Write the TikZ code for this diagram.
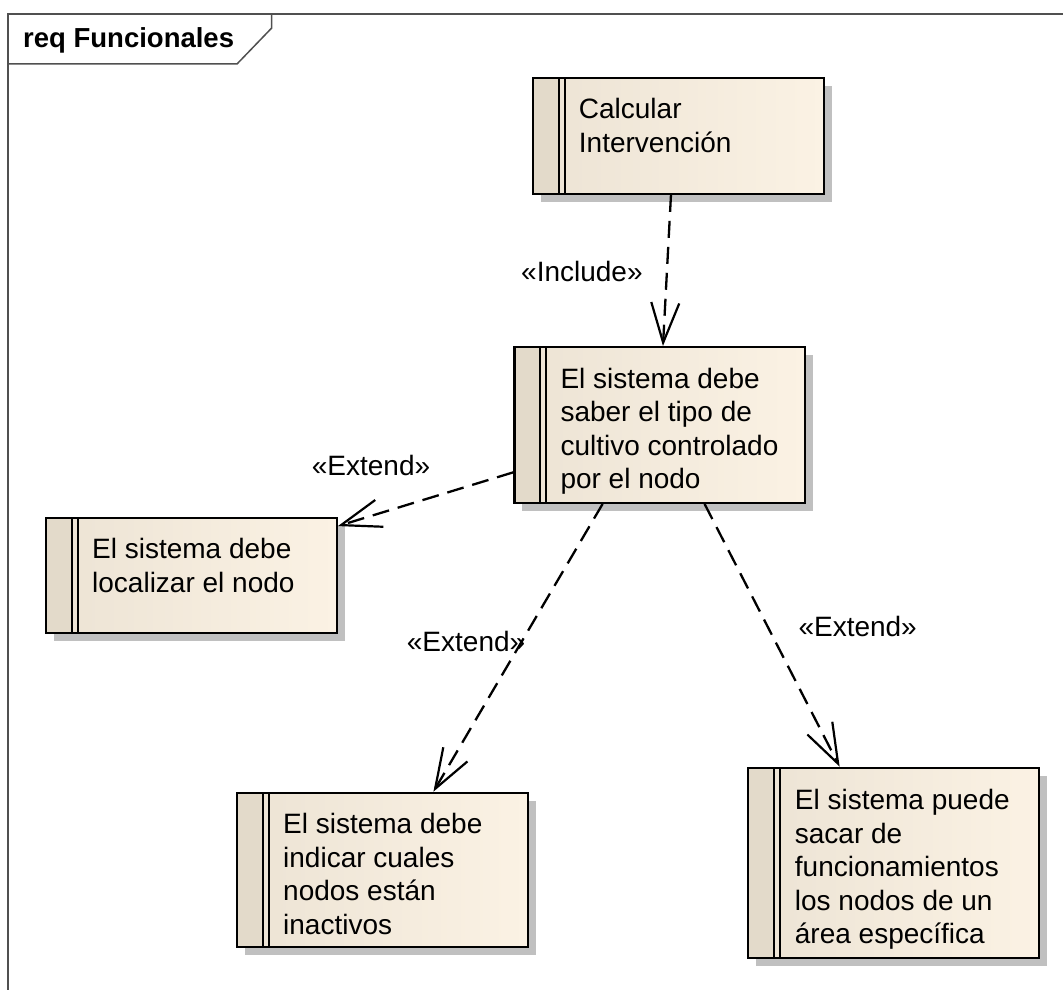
\documentclass[tikz,border=0pt]{standalone}
\usepackage{fontspec}
\setmainfont{Liberation Sans}
\usetikzlibrary{arrows.meta,calc,shadows}
\definecolor{stripcol}{RGB}{227,218,202}
\definecolor{leftcol}{RGB}{236,227,212}
\definecolor{rightcol}{RGB}{251,242,228}
\definecolor{shadowcol}{RGB}{192,192,192}
\definecolor{framecol}{RGB}{80,80,80}
\tikzset{
  reqbox/.style={draw=black, line width=2.2pt, anchor=north west, inner sep=0pt,
    left color=leftcol, right color=rightcol,
    general shadow={fill=shadowcol, shadow xshift=8pt, shadow yshift=-8pt},
    path picture={
      \fill[stripcol] (path picture bounding box.north west) rectangle ([xshift=26pt]path picture bounding box.south west);
      \draw[line width=2pt] ([xshift=26pt]path picture bounding box.north west) -- ([xshift=26pt]path picture bounding box.south west);
      \draw[line width=2pt] ([xshift=32pt]path picture bounding box.north west) -- ([xshift=32pt]path picture bounding box.south west);
    }},
  reqtext/.style={anchor=base west, inner sep=0pt, font=\fontsize{28}{33.5}\selectfont},
  deplabel/.style={anchor=base west, inner sep=0pt, font=\fontsize{28}{33.5}\selectfont},
  dependency/.style={line width=2.3pt, dash pattern=on 17pt off 9pt,
    -{Straight Barb[length=40pt,width=28pt,line width=2.2pt]}},
  frameline/.style={draw=framecol, line width=1.5pt}
}
\newcommand{\reqlines}[1]{\parbox[t]{270pt}{\fontsize{28}{33.5}\selectfont\raggedright #1}}
\begin{document}
\begin{tikzpicture}[x=1pt,y=-1pt]
\useasboundingbox (0,0) rectangle (1063,990);
% frame
\draw[frameline] (1063,14) -- (8,14) -- (8,990);
\draw[frameline] (8,64) -- (237,64) -- (271.7,28) -- (271.7,14);
\node[anchor=base west, inner sep=0pt, font=\fontsize{27.5}{32}\selectfont\bfseries] (title) at (23,48) {req Funcionales};

% boxes
\node[reqbox, minimum width=291pt, minimum height=116pt] (calc) at (531.7,76.7) {};
\node[reqbox, minimum width=290.7pt, minimum height=155.7pt] (mid) at (513.3,346) {};
\node[reqbox, minimum width=290.7pt, minimum height=115pt] (loc) at (45,516.7) {};
\node[reqbox, minimum width=290.7pt, minimum height=154.3pt] (ind) at (236,791.7) {};
\node[reqbox, minimum width=291pt, minimum height=190pt] (sac) at (746.7,766.7) {};

% texts
\node[reqtext] (calcT) at ($(calc.north west)+(47,42)$) {\reqlines{Calcular\\Intervención}};
\node[reqtext] (midT) at ($(mid.north west)+(47,42)$) {\reqlines{El sistema debe\\saber el tipo de\\cultivo controlado\\por el nodo}};
\node[reqtext] (locT) at ($(loc.north west)+(47,42)$) {\reqlines{El sistema debe\\localizar el nodo}};
\node[reqtext] (indT) at ($(ind.north west)+(47,42)$) {\reqlines{El sistema debe\\indicar cuales\\nodos están\\inactivos}};
\node[reqtext] (sacT) at ($(sac.north west)+(48,43)$) {\reqlines{El sistema puede\\sacar de\\funcionamientos\\los nodos de un\\área específica}};

% connector end points
\coordinate (c1) at ($(calc.south west)!0.475!(calc.south east)$);
\coordinate (m1) at ($(mid.north west)!0.511!(mid.north east)$);
\coordinate (m2) at ($(mid.north west)!0.8!(mid.south west)$);
\coordinate (l1) at ($(loc.north east)!0.08!(loc.south east)$);
\coordinate (m3) at ($(mid.south west)!0.305!(mid.south east)$);
\coordinate (i1) at ($(ind.north west)!0.674!(ind.north east)$);
\coordinate (m4) at ($(mid.south west)!0.653!(mid.south east)$);
\coordinate (s1) at ($(sac.north west)!0.317!(sac.north east)$);

\draw[dependency] (c1) -- (m1);
\draw[dependency] (m2) -- (l1);
\draw[dependency] (m3) -- (i1);
\draw[dependency] (m4) -- (s1);

% labels
\node[deplabel] (lInc) at (521,281) {«Include»};
\node[deplabel] (lExt1) at (311.7,475) {«Extend»};
\node[deplabel] (lExt2) at (406.7,651) {«Extend»};
\node[deplabel] (lExt3) at (798.3,636) {«Extend»};
\end{tikzpicture}
\end{document}
